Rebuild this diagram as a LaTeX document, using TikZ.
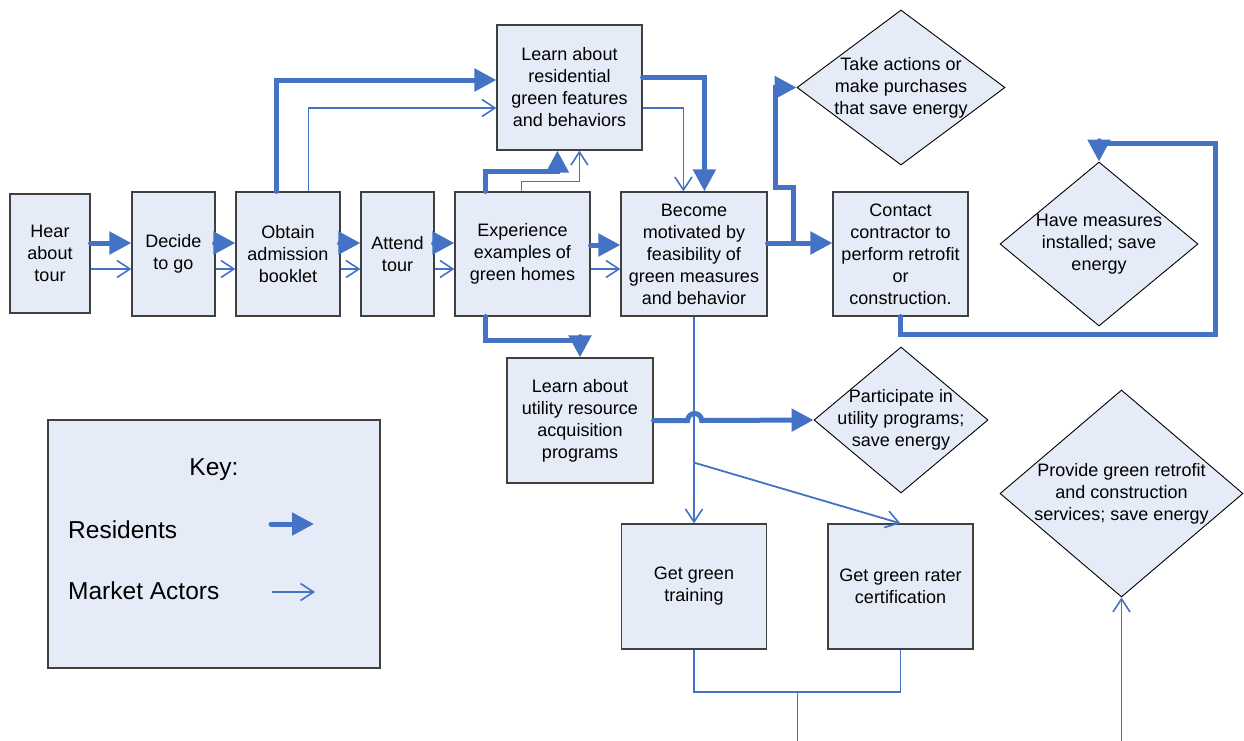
\documentclass[tikz,border=0pt]{standalone}
\usepackage{fontspec}
\setmainfont{Liberation Sans}
\usetikzlibrary{arrows.meta,shapes.geometric,calc}
\definecolor{lineblue}{HTML}{4472C4}
\definecolor{boxfill}{HTML}{E6ECF7}
\definecolor{boxline}{HTML}{404040}
\begin{document}
\begin{tikzpicture}[x=1pt,y=-1pt,
  box/.style={draw=boxline, line width=1.2pt, fill=boxfill, rectangle, align=center, inner sep=0pt, font=\fontsize{18}{22}\selectfont},
  dia/.style={draw=black, line width=0.9pt, fill=boxfill, diamond, inner sep=0pt},
  dtext/.style={align=center, font=\fontsize{18}{22}\selectfont, inner sep=0pt},
  keytext/.style={font=\fontsize{24.5}{28}\selectfont, inner sep=0pt},
  res/.style={draw=lineblue, line width=5pt, line cap=round, -{Triangle[length=22pt,width=22pt]}},
  mkt/.style={draw=lineblue, line width=1.8pt, -{Straight Barb[length=13pt,width=17pt,line width=1.6pt]}},
  plain/.style={draw=lineblue, line width=1.8pt}
]
\useasboundingbox (0,0) rectangle (1244,740);

% boxes
\node[box, minimum width=80pt, minimum height=119pt] (hear) at (50,253.5) {Hear\\about\\tour};
\node[box, minimum width=83pt, minimum height=124pt] (decide) at (173.5,254) {Decide\\to go};
\node[box, minimum width=104pt, minimum height=124pt] (obtain) at (288,254) {Obtain\\admission\\booklet};
\node[box, minimum width=73pt, minimum height=124pt] (attend) at (397.5,254) {Attend\\tour};
\node[box, minimum width=135pt, minimum height=124pt] (exper) at (522.5,254) {Experience\\examples of\\green homes};
\node[box, minimum width=146pt, minimum height=124pt] (become) at (694,254) {Become\\motivated by\\feasibility of\\green measures\\and behavior};
\node[box, minimum width=135pt, minimum height=124pt] (contact) at (900.5,254) {Contact\\contractor to\\perform retrofit\\or\\construction.};
\node[box, minimum width=145pt, minimum height=125pt] (learnres) at (569.5,87.5) {Learn about\\residential\\green features\\and behaviors};
\node[box, minimum width=146pt, minimum height=125pt] (utility) at (580,420.5) {Learn about\\utility resource\\acquisition\\programs};
\node[box, minimum width=145pt, minimum height=125pt] (training) at (694,586.5) {Get green\\training};
\node[box, minimum width=145pt, minimum height=125pt] (rater) at (900.5,586.5) {Get green rater\\certification};

% diamonds
\node[dia, minimum width=208pt, minimum height=155pt] (take) at (901,87.5) {};
\node[dtext] (taketext) at (take.center) {Take actions or\\make purchases\\that save energy};
\node[dia, minimum width=198pt, minimum height=164pt] (have) at (1099,244) {};
\node[dtext] (havetext) at (have.center) {Have measures\\installed; save\\energy};
\node[dia, minimum width=174pt, minimum height=146pt] (part) at (901,420) {};
\node[dtext] (parttext) at (part.center) {Participate in\\utility programs;\\save energy};
\node[dia, minimum width=243pt, minimum height=207pt] (provide) at (1121.5,493.5) {};
\node[dtext] (providetext) at (provide.center) {Provide green retrofit\\and construction\\services; save energy};

% key
\node[box, minimum width=332pt, minimum height=248pt] (key) at (214,544) {};
\node[keytext] (keytitle) at (214,470) {Key:};
\node[keytext, anchor=west] (keyres) at (68,530) {Residents};
\node[keytext, anchor=west] (keymkt) at (68,591) {Market Actors};
\coordinate (kra) at (271,524);
\coordinate (krb) at (314,524);
\coordinate (kma) at (272,592);
\coordinate (kmb) at (315,592);
\draw[res] (kra) -- (krb);
\draw[mkt] (kma) -- (kmb);

% main row
\draw[res] ([yshift=10.5pt]hear.east) -- ([yshift=11pt]decide.west);
\draw[mkt] ([yshift=-15.5pt]hear.east) -- ([yshift=-15pt]decide.west);
\draw[res] ([yshift=11pt]decide.east) -- ([yshift=11pt]obtain.west);
\draw[mkt] ([yshift=-15pt]decide.east) -- ([yshift=-15pt]obtain.west);
\draw[res] ([yshift=11pt]obtain.east) -- ([yshift=11pt]attend.west);
\draw[mkt] ([yshift=-15pt]obtain.east) -- ([yshift=-15pt]attend.west);
\draw[res] ([yshift=11pt]attend.east) -- ([yshift=11pt]exper.west);
\draw[mkt] ([yshift=-15pt]attend.east) -- ([yshift=-15pt]exper.west);
\draw[res] ([yshift=9pt]exper.east) -- ([yshift=9pt]become.west);
\draw[mkt] ([yshift=-15pt]exper.east) -- ([yshift=-15pt]become.west);

% obtain -> learn residential
\draw[res] ([xshift=41pt]obtain.north west) |- ([yshift=7.5pt]learnres.west);
\draw[mkt] ([xshift=73pt]obtain.north west) |- ([yshift=-20.5pt]learnres.west);

% experience -> learn residential
\draw[res] ([xshift=31pt]exper.north west) -- ++(0,-20) -| ([xshift=61pt]learnres.south west);
\draw[mkt] ([xshift=67pt]exper.north west) -- ++(0,-10) -| ([xshift=83pt]learnres.south west);

% learn residential -> become
\draw[res] ([yshift=10.5pt]learnres.east) -| ([xshift=84pt]become.north west);
\draw[mkt] ([yshift=-20.5pt]learnres.east) -| ([xshift=63pt]become.north west);

% become -> contact and -> take actions
\draw[res] ([yshift=11pt]become.east) -- ([yshift=11pt]contact.west);
\coordinate (br) at ([xshift=26pt,yshift=11pt]become.east);
\draw[res] (br) -- ++(0,-56) -- ++(-18,0) |- (take.west);

% contact -> have measures
\draw[res] (contact.south) -- ++(0,18) -| ++(315,-191) -| (have.north);

% experience -> learn utility
\draw[res] ([xshift=31pt]exper.south west) -- ++(0,24) -| (utility.north);

% become -> training, rater
\draw[mkt] (become.south) -- (training.north);
\coordinate (br2) at ([yshift=-146pt]become.south);
\draw[mkt] (br2) -- (rater.north);

% utility -> participate with hop
\draw[res] (utility.east) -- ++(34,0) arc[start angle=180,end angle=0,radius=7pt] -- (part.west);

% bottom join
\draw[plain] (training.south) -- ++(0,42) -| (rater.south);
\coordinate (joinpt) at (797.5,691);
\coordinate (bottomA) at (797.5,745);
\draw[plain] (joinpt) -- (bottomA);

% provide
\coordinate (provsrc) at (1121.5,745);
\draw[mkt] (provsrc) -- (provide.south);
\end{tikzpicture}
\end{document}
